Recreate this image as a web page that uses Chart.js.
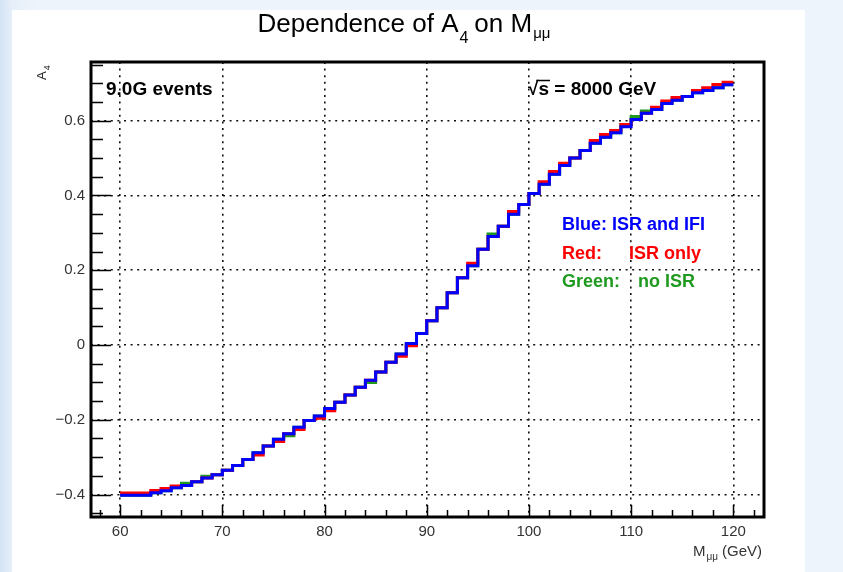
<!DOCTYPE html>
<html>
<head>
<meta charset="utf-8">
<script src="https://cdn.jsdelivr.net/npm/chart.js@4.4.1/dist/chart.umd.min.js"></script>
<style>
  html, body { margin: 0; padding: 0; }
  body {
    width: 843px; height: 572px; overflow: hidden;
    background: linear-gradient(to right, #d3e3f4 0px, #e6eff9 12px, #eef4fb 40px);
  }
  #wrap {
    position: absolute; left: 12px; top: 10px;
    width: 793px; height: 562px; background: #ffffff;
  }
</style>
</head>
<body>
<div id="wrap"><canvas id="a4Chart" width="793" height="562"></canvas></div>
<script>
// ---------------------------------
// datos: A4 por bin de M_mumu (bins de 1 GeV, 60-120)
// ---------------------------------
const massEdges = [60, 61, 62, 63, 64, 65, 66, 67, 68, 69, 70, 71, 72, 73, 74, 75, 76, 77, 78, 79,
  80, 81, 82, 83, 84, 85, 86, 87, 88, 89, 90, 91, 92, 93, 94, 95, 96, 97, 98, 99,
  100, 101, 102, 103, 104, 105, 106, 107, 108, 109, 110, 111, 112, 113, 114, 115, 116, 117, 118, 119, 120];

// Blue: ISR and IFI
const blueA4 = [-0.402, -0.402, -0.402, -0.395, -0.390, -0.382, -0.376, -0.366, -0.356, -0.347,
  -0.335, -0.322, -0.306, -0.288, -0.270, -0.252, -0.237, -0.220, -0.202, -0.190,
  -0.170, -0.153, -0.134, -0.113, -0.094, -0.072, -0.046, -0.024, 0.004, 0.031,
  0.065, 0.100, 0.140, 0.180, 0.212, 0.256, 0.290, 0.318, 0.350, 0.376,
  0.405, 0.430, 0.457, 0.480, 0.500, 0.520, 0.540, 0.556, 0.568, 0.584,
  0.603, 0.620, 0.630, 0.646, 0.655, 0.665, 0.675, 0.681, 0.688, 0.696];

// Red: ISR only
const redA4 = [-0.396, -0.396, -0.396, -0.389, -0.384, -0.377, -0.376, -0.366, -0.356, -0.347,
  -0.335, -0.322, -0.306, -0.294, -0.270, -0.258, -0.237, -0.226, -0.202, -0.196,
  -0.176, -0.153, -0.134, -0.113, -0.094, -0.072, -0.046, -0.030, -0.002, 0.031,
  0.065, 0.100, 0.140, 0.180, 0.219, 0.256, 0.290, 0.318, 0.357, 0.376,
  0.405, 0.437, 0.464, 0.486, 0.500, 0.520, 0.547, 0.563, 0.574, 0.590,
  0.603, 0.620, 0.636, 0.653, 0.662, 0.665, 0.681, 0.688, 0.697, 0.703];

// Green: no ISR
const greenA4 = [-0.402, -0.402, -0.402, -0.395, -0.390, -0.382, -0.370, -0.366, -0.351, -0.347,
  -0.335, -0.322, -0.306, -0.288, -0.270, -0.252, -0.243, -0.220, -0.202, -0.190,
  -0.170, -0.153, -0.134, -0.113, -0.100, -0.072, -0.046, -0.024, 0.004, 0.031,
  0.065, 0.100, 0.140, 0.180, 0.212, 0.256, 0.297, 0.318, 0.350, 0.376,
  0.405, 0.430, 0.457, 0.480, 0.500, 0.520, 0.540, 0.556, 0.568, 0.590,
  0.611, 0.626, 0.630, 0.646, 0.655, 0.665, 0.675, 0.681, 0.688, 0.696];

const xTickValues = [60, 70, 80, 90, 100, 110, 120];
const yTickValues = [-0.4, -0.2, 0, 0.2, 0.4, 0.6];
const yTickLabels = ['\u22120.4', '\u22120.2', '0', '0.2', '0.4', '0.6'];

// histograma -> puntos con escalón (último borde repite el último valor)
function histPoints(values) {
  return massEdges.map((x, i) => ({ x: x, y: values[Math.min(i, values.length - 1)] }));
}

const FONT = '"Liberation Sans", Arial, Helvetica, sans-serif';
const OX = 12, OY = 10;   // desplazamiento del canvas en la página

// marcas de eje estilo ROOT (hacia dentro) + marco
const frameTicks = {
  id: 'frameTicks',
  afterDatasetsDraw(chart) {
    const { ctx, chartArea: a, scales: { x, y } } = chart;
    ctx.save();
    ctx.strokeStyle = '#000';
    ctx.lineWidth = 1.5;
    ctx.beginPath();
    for (let v = 58; v <= 122; v += 2) {
      const px = Math.round(x.getPixelForValue(v)) + 0.5;
      const len = v % 10 === 0 ? 12 : 7;
      ctx.moveTo(px, a.bottom);
      ctx.lineTo(px, a.bottom - len);
    }
    for (let k = -9; k <= 15; k++) {
      const py = Math.round(y.getPixelForValue(k * 0.05)) + 0.5;
      if (py < a.top || py > a.bottom) continue;
      const len = k % 4 === 0 ? 20 : 12;
      ctx.moveTo(a.left, py);
      ctx.lineTo(a.left + len, py);
    }
    ctx.stroke();
    ctx.lineWidth = 3;
    ctx.strokeRect(a.left, a.top, a.right - a.left, a.bottom - a.top);
    ctx.restore();
  }
};

// textos: título, ejes, anotaciones
function subText(ctx, parts, x, y) {
  // parts: [texto, tamaño, desplazamiento vertical, peso, espacio tras]
  let cx = x;
  parts.forEach(p => {
    ctx.font = p[3] + ' ' + p[1] + 'px ' + FONT;
    ctx.fillText(p[0], cx, y + p[2]);
    cx += ctx.measureText(p[0]).width + (p[4] || 0);
  });
  return cx;
}
function partsWidth(ctx, parts) {
  let w = 0;
  parts.forEach(p => {
    ctx.font = p[3] + ' ' + p[1] + 'px ' + FONT;
    w += ctx.measureText(p[0]).width + (p[4] || 0);
  });
  return w;
}

const labels = {
  id: 'labels',
  afterDraw(chart) {
    const ctx = chart.ctx;
    ctx.save();
    ctx.textBaseline = 'alphabetic';
    ctx.textAlign = 'left';

    // título
    ctx.fillStyle = '#000';
    const title = [['Dependence of A', 26, 0, 'normal', 1], ['4', 16, 11, 'normal', 6],
                   ['on M', 26, 0, 'normal', 1], ['\u03bc\u03bc', 15, 6, 'normal', 0]];
    const tw = partsWidth(ctx, title);
    subText(ctx, title, 404 - tw / 2 - OX, 32 - OY);

    // eje y: A4 rotado
    ctx.save();
    ctx.translate(46 - OX, 80 - OY);
    ctx.rotate(-Math.PI / 2);
    ctx.fillStyle = '#222';
    subText(ctx, [['A', 13, 0, 'normal', 1], ['4', 9, 4, 'normal', 0]], 0, 0);
    ctx.restore();

    // eje x: M_mumu (GeV)
    ctx.fillStyle = '#333';
    const xt = [['M', 15, 0, 'normal', 1], ['\u03bc\u03bc', 10, 4, 'normal', 4], ['(GeV)', 15, 0, 'normal', 0]];
    const xw = partsWidth(ctx, xt);
    subText(ctx, xt, 762 - xw - OX, 556 - OY);

    // anotaciones
    ctx.fillStyle = '#000';
    ctx.font = 'bold 19px ' + FONT;
    ctx.fillText('9.0G events', 106 - OX, 95 - OY);
    ctx.fillText('\u221A', 528 - OX, 95 - OY);
    const rw = ctx.measureText('\u221A').width;
    ctx.fillText('s = 8000 GeV', 528 + rw - OX, 95 - OY);
    const sw = ctx.measureText('s').width;
    ctx.lineWidth = 1.5;
    ctx.strokeStyle = '#000';
    ctx.beginPath();
    ctx.moveTo(528 + rw - 2 - OX, 80.5 - OY);
    ctx.lineTo(528 + rw + sw + 1 - OX, 80.5 - OY);
    ctx.stroke();

    ctx.font = 'bold 18px ' + FONT;
    ctx.fillStyle = '#0000ff';
    ctx.fillText('Blue: ISR and IFI', 562 - OX, 230 - OY);
    ctx.fillStyle = '#ff0000';
    ctx.fillText('Red:', 562 - OX, 259 - OY);
    ctx.fillText('ISR only', 629 - OX, 259 - OY);
    ctx.fillStyle = '#1f9a1f';
    ctx.fillText('Green:', 562 - OX, 287 - OY);
    ctx.fillText('no ISR', 638 - OX, 287 - OY);
    ctx.restore();
  }
};

function histDataset(label, values, color, order) {
  return {
    label: label,
    data: histPoints(values),
    borderColor: color,
    borderWidth: 3,
    stepped: true,
    pointRadius: 0,
    fill: false,
    order: order
  };
}

const ctxA4 = document.getElementById('a4Chart').getContext('2d');

const a4Chart = new Chart(ctxA4, {
  type: 'line',
  data: {
    datasets: [
      histDataset('Blue: ISR and IFI', blueA4, '#0000ff', 0),
      histDataset('Red: ISR only', redA4, '#ff0000', 1),
      histDataset('Green: no ISR', greenA4, '#1f9a1f', 2)
    ]
  },
  options: {
    responsive: false,
    animation: false,
    layout: { padding: { left: 0, top: 52, right: 41, bottom: 0 } },
    plugins: {
      legend: { display: false },
      tooltip: { enabled: false }
    },
    scales: {
      x: {
        type: 'linear',
        min: 57.15,
        max: 123.0,
        afterBuildTicks: s => { s.ticks = xTickValues.map(v => ({ value: v })); },
        afterFit: s => { s.height = 55; },
        grid: { color: '#111', lineWidth: 1.6, drawTicks: false },
        border: { display: false, dash: [2, 4.6] },
        ticks: {
          color: '#333',
          padding: 6,
          maxRotation: 0,
          font: { family: FONT, size: 15 },
          callback: v => String(v)
        }
      },
      y: {
        type: 'linear',
        min: -0.46,
        max: 0.757,
        afterBuildTicks: s => { s.ticks = yTickValues.map(v => ({ value: v })); },
        afterFit: s => { s.width = 79; },
        grid: { color: '#111', lineWidth: 1.6, drawTicks: false },
        border: { display: false, dash: [2, 4.6] },
        ticks: {
          color: '#333',
          padding: 6,
          font: { family: FONT, size: 15 },
          callback: v => yTickLabels[yTickValues.findIndex(t => Math.abs(t - v) < 1e-6)]
        }
      }
    }
  },
  plugins: [frameTicks, labels]
});
</script>
</body>
</html>
